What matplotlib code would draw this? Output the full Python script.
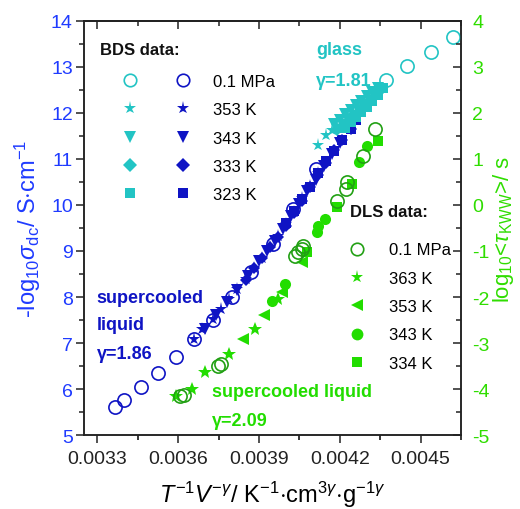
import matplotlib
matplotlib.use("Agg")
import matplotlib.pyplot as plt
from matplotlib.ticker import MultipleLocator
from matplotlib.lines import Line2D
from matplotlib.legend_handler import HandlerTuple

plt.rcParams['font.family'] = ['Liberation Sans', 'DejaVu Sans']
plt.rcParams['mathtext.fontset'] = 'custom'
plt.rcParams['mathtext.rm'] = 'Liberation Sans'
plt.rcParams['mathtext.it'] = 'Liberation Sans:italic'
plt.rcParams['mathtext.bf'] = 'Liberation Sans:bold'
plt.rcParams['axes.unicode_minus'] = False

# ---------------- data ----------------
# BDS, 0.1 MPa (blue: supercooled liquid, cyan: glass)
bds_p_liq_x = [0.003367, 0.003397, 0.00346, 0.003524, 0.00359, 0.00366, 0.00373, 0.00380, 0.00387, 0.003952, 0.004027, 0.00411]
bds_p_liq_y = [5.61, 5.76, 6.04, 6.35, 6.70, 7.09, 7.50, 8.00, 8.54, 9.15, 9.91, 10.78]
bds_p_gl_x = [0.004373, 0.00445, 0.00454, 0.00462]
bds_p_gl_y = [12.72, 13.02, 13.33, 13.65]

# BDS isotherms, supercooled liquid (blue)
liq_353_x = [0.00366, 0.00369, 0.00373, 0.00376, 0.00379, 0.00382, 0.00385, 0.00388, 0.00391, 0.00394, 0.00397, 0.00400, 0.00403, 0.00406, 0.00409, 0.00412]
liq_353_y = [7.09, 7.30, 7.52, 7.75, 7.95, 8.18, 8.40, 8.62, 8.85, 9.08, 9.32, 9.58, 9.85, 10.15, 10.42, 10.70]
liq_343_x = [0.00370, 0.00374, 0.00378, 0.00382, 0.00386, 0.00390, 0.00393, 0.00396, 0.00399, 0.00402, 0.00405, 0.00408, 0.00411, 0.00414, 0.00417, 0.00420]
liq_343_y = [7.30, 7.60, 7.90, 8.15, 8.45, 8.78, 9.00, 9.22, 9.48, 9.75, 10.02, 10.30, 10.55, 10.85, 11.10, 11.35]
liq_333_x = [0.00385, 0.00388, 0.00391, 0.00394, 0.00397, 0.00400, 0.00403, 0.00406, 0.00409, 0.00412, 0.00415, 0.00418, 0.00421, 0.00424]
liq_333_y = [8.38, 8.62, 8.85, 9.08, 9.30, 9.55, 9.82, 10.08, 10.38, 10.65, 10.92, 11.20, 11.42, 11.65]
liq_323_x = [0.00400, 0.00403, 0.00406, 0.00409, 0.00412, 0.00415, 0.00418, 0.00421, 0.00424, 0.00426]
liq_323_y = [9.60, 9.88, 10.12, 10.40, 10.70, 10.95, 11.18, 11.42, 11.65, 11.85]

# BDS isotherms, glass (cyan)
gl_353_x = [0.00412, 0.00415, 0.00417, 0.00419, 0.00421, 0.00423, 0.00425, 0.00427, 0.00429, 0.00431, 0.00433]
gl_353_y = [11.30, 11.52, 11.62, 11.72, 11.82, 11.93, 12.03, 12.13, 12.23, 12.33, 12.43]
gl_343_x = [0.00418, 0.00420, 0.00422, 0.00424, 0.00426, 0.00428, 0.00430, 0.00432, 0.00434]
gl_343_y = [11.75, 11.85, 11.97, 12.07, 12.18, 12.27, 12.37, 12.46, 12.55]
gl_333_x = [0.00419, 0.00421, 0.00423, 0.00425, 0.00427, 0.00429, 0.00431, 0.00433, 0.00435]
gl_333_y = [11.62, 11.72, 11.83, 11.95, 12.05, 12.15, 12.26, 12.37, 12.48]
gl_323_x = [0.00422, 0.00424, 0.00426, 0.00428, 0.00430, 0.00432, 0.00434, 0.00436]
gl_323_y = [11.68, 11.80, 11.92, 12.02, 12.13, 12.25, 12.38, 12.55]

# DLS (right axis)
dls_p_x = [0.003606, 0.00362, 0.003747, 0.003757, 0.004034, 0.004045, 0.00406, 0.004063, 0.00419, 0.004222, 0.004228, 0.004288, 0.004332]
dls_p_y = [-4.15, -4.12, -3.50, -3.46, -1.11, -1.02, -0.96, -0.89, 0.09, 0.35, 0.50, 1.07, 1.65]
dls_363_x = [0.00359, 0.00365, 0.00370, 0.00379, 0.003885, 0.00397]
dls_363_y = [-4.15, -4.00, -3.63, -3.24, -2.70, -2.04]
dls_353_x = [0.00384, 0.00392, 0.003986, 0.00406]
dls_353_y = [-2.91, -2.40, -1.89, -1.25]
dls_343_x = [0.003948, 0.003997, 0.004116, 0.00412, 0.004146, 0.00427, 0.00430]
dls_343_y = [-2.09, -1.72, -0.59, -0.46, -0.30, 0.93, 1.28]
dls_334_x = [0.00408, 0.00419, 0.004247, 0.00434]
dls_334_y = [-1.02, -0.04, 0.46, 1.39]

bds_labels = ['0.1 MPa', '353 K', '343 K', '333 K', '323 K']
dls_labels = ['0.1 MPa', '363 K', '353 K', '343 K', '334 K']

# ---------------- style ----------------
BLUE = '#0F14C4'
CYAN = '#22C4C4'
GREEN = '#22DD00'
DGREEN = '#22A014'
LBLUE = '#1F3BFF'
RGREEN = '#2FDD00'

fig = plt.figure(figsize=(5.2, 5.1), dpi=100)
ax = fig.add_axes([0.1615, 0.145, 0.725, 0.812])
ax2 = ax.twinx()

ms_c = 9.5
ms_f = 8

# BDS
ax.plot(bds_p_liq_x, bds_p_liq_y, 'o', mfc='none', mec=BLUE, mew=1.2, ms=ms_c, zorder=3)
ax.plot(bds_p_gl_x, bds_p_gl_y, 'o', mfc='none', mec=CYAN, mew=1.2, ms=ms_c, zorder=3)
ax.plot(liq_353_x, liq_353_y, '*', color=BLUE, ms=ms_f + 1.5, mew=0, zorder=4)
ax.plot(liq_343_x, liq_343_y, 'v', color=BLUE, ms=ms_f, mew=0, zorder=4)
ax.plot(liq_333_x, liq_333_y, 'D', color=BLUE, ms=ms_f - 1.5, mew=0, zorder=4)
ax.plot(liq_323_x, liq_323_y, 's', color=BLUE, ms=ms_f - 1, mew=0, zorder=4)
ax.plot(gl_353_x, gl_353_y, '*', color=CYAN, ms=ms_f + 1.5, mew=0, zorder=4)
ax.plot(gl_343_x, gl_343_y, 'v', color=CYAN, ms=ms_f, mew=0, zorder=4)
ax.plot(gl_333_x, gl_333_y, 'D', color=CYAN, ms=ms_f - 1.5, mew=0, zorder=4)
ax.plot(gl_323_x, gl_323_y, 's', color=CYAN, ms=ms_f - 1, mew=0, zorder=4)

# DLS
ax2.plot(dls_363_x, dls_363_y, '*', color=GREEN, ms=ms_f + 2, mew=0, zorder=3)
ax2.plot(dls_353_x, dls_353_y, '<', color=GREEN, ms=ms_f, mew=0, zorder=3)
ax2.plot(dls_343_x, dls_343_y, 'o', color=GREEN, ms=ms_f, mew=0, zorder=3)
ax2.plot(dls_334_x, dls_334_y, 's', color=GREEN, ms=ms_f - 1, mew=0, zorder=3)
ax2.plot(dls_p_x, dls_p_y, 'o', mfc='none', mec=DGREEN, mew=1.2, ms=ms_c, zorder=4)

# axes ranges / ticks
ax.set_xlim(0.00325, 0.00465)
ax.set_ylim(5, 14)
ax2.set_ylim(-5, 4)
ax.xaxis.set_major_locator(MultipleLocator(0.0003))
ax.xaxis.set_minor_locator(MultipleLocator(0.00015))
ax.yaxis.set_major_locator(MultipleLocator(1))
ax.yaxis.set_minor_locator(MultipleLocator(0.5))
ax2.yaxis.set_major_locator(MultipleLocator(1))
ax2.yaxis.set_minor_locator(MultipleLocator(0.5))
ax.xaxis.set_major_formatter(matplotlib.ticker.FuncFormatter(lambda v, p: f'{v:.4f}'))

for a in (ax, ax2):
    for s in a.spines.values():
        s.set_linewidth(1.1)
        s.set_color('#222222')

ax.tick_params(axis='x', which='major', direction='out', length=6, width=1.1, labelsize=14, pad=5, colors='#222222')
ax.tick_params(axis='x', which='minor', direction='out', length=3.5, width=1.1)
ax.tick_params(axis='y', which='major', direction='out', length=6, width=1.1, labelsize=14, labelcolor=LBLUE, color='#222222', pad=2)
ax.tick_params(axis='y', which='minor', direction='out', length=3.5, width=1.1, color='#222222')
ax2.tick_params(axis='y', which='major', direction='in', length=6, width=1.1, labelsize=14, labelcolor=RGREEN, color='#222222', pad=8)
ax2.tick_params(axis='y', which='minor', direction='in', length=3.5, width=1.1, color='#222222')

top = ax.secondary_xaxis('top')
top.xaxis.set_major_locator(MultipleLocator(0.0003))
top.xaxis.set_minor_locator(MultipleLocator(0.00015))
top.tick_params(which='major', direction='in', length=6, width=1.1, labeltop=False, color='#222222')
top.tick_params(which='minor', direction='in', length=3.5, width=1.1, color='#222222')
top.spines['top'].set_linewidth(1.1)

ax.set_xlabel(r'$T^{-1}V^{-\gamma}$/ K$^{-1}$$\cdot$cm$^{3\gamma}$$\cdot$g$^{-1\gamma}$', fontsize=17, labelpad=8)
ax.set_ylabel(r'-log$_{10}\sigma_{\rm dc}$/ S$\cdot$cm$^{-1}$', fontsize=17, color=LBLUE, labelpad=6)
ax2.set_ylabel(r'log$_{10}$<$\tau_{\rm KWW}$>/ s', fontsize=16, color=RGREEN, labelpad=1)

# annotations
fs_b = 13
ax.text(0.615, 0.932, 'glass', transform=ax.transAxes, color=CYAN, fontsize=fs_b, fontweight='bold', va='center')
ax.text(0.615, 0.857, 'γ=1.81', transform=ax.transAxes, color=CYAN, fontsize=fs_b, fontweight='bold', va='center')
ax.text(0.034, 0.331, 'supercooled', transform=ax.transAxes, color=BLUE, fontsize=fs_b, fontweight='bold', va='center')
ax.text(0.034, 0.268, 'liquid', transform=ax.transAxes, color=BLUE, fontsize=fs_b, fontweight='bold', va='center')
ax.text(0.034, 0.196, 'γ=1.86', transform=ax.transAxes, color=BLUE, fontsize=fs_b, fontweight='bold', va='center')
ax.text(0.340, 0.104, 'supercooled liquid', transform=ax.transAxes, color=GREEN, fontsize=fs_b, fontweight='bold', va='center')
ax.text(0.340, 0.034, 'γ=2.09', transform=ax.transAxes, color=GREEN, fontsize=fs_b, fontweight='bold', va='center')

ax.text(0.042, 0.932, 'BDS data:', transform=ax.transAxes, color='#111111', fontsize=12, fontweight='bold', va='center')
ax.text(0.705, 0.539, 'DLS data:', transform=ax.transAxes, color='#111111', fontsize=12, fontweight='bold', va='center')

# legends
def mk(marker, color, filled=True, ms=8):
    if filled:
        return Line2D([], [], ls='none', marker=marker, color=color, ms=ms, mew=0)
    return Line2D([], [], ls='none', marker=marker, mfc='none', mec=color, mew=1.2, ms=ms)

bds_markers = [('o', False, 9), ('*', True, 9.5), ('v', True, 9), ('D', True, 7), ('s', True, 7)]
bds_handles = [(mk(m, CYAN, f, s), mk(m, BLUE, f, s)) for m, f, s in bds_markers]
leg1 = ax.legend(bds_handles, bds_labels, handler_map={tuple: HandlerTuple(ndivide=None, pad=0)},
                 loc='upper left', bbox_to_anchor=(0.053, 0.872), frameon=False, borderpad=0,
                 borderaxespad=0, fontsize=12, handlelength=6.3, handletextpad=0.25, labelspacing=0.8)
ax.add_artist(leg1)

dls_markers = [('o', False, 9), ('*', True, 9.5), ('<', True, 9), ('o', True, 8.5), ('s', True, 7)]
dls_handles = [mk(m, GREEN if f else DGREEN, f, s) for m, f, s in dls_markers]
leg2 = ax.legend(dls_handles, dls_labels, loc='upper left', bbox_to_anchor=(0.684, 0.465),
                 frameon=False, borderpad=0, borderaxespad=0, fontsize=12, handlelength=1.85,
                 handletextpad=1.0, labelspacing=0.8)

fig.savefig('out.png', dpi=100)
